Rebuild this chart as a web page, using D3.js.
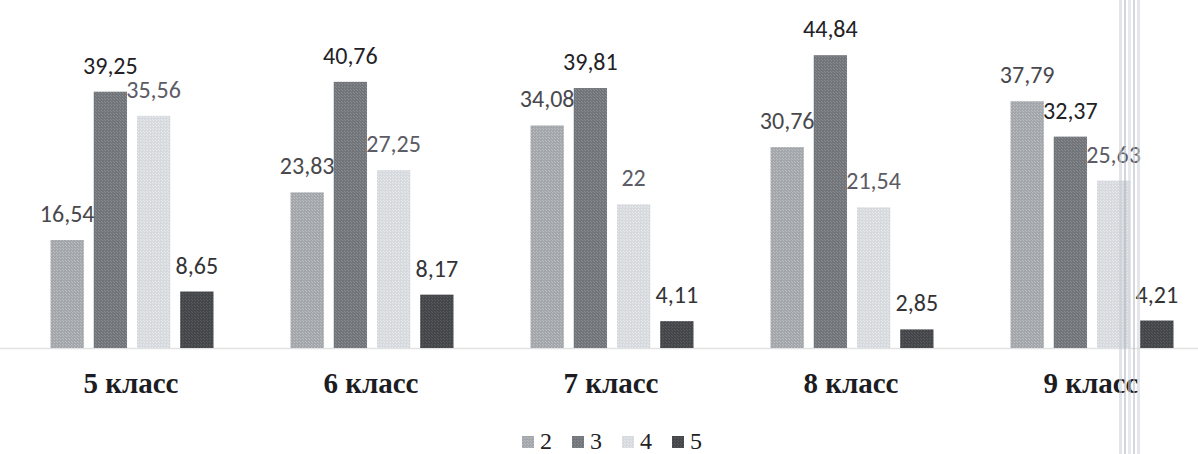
<!DOCTYPE html>
<html>
<head>
<meta charset="utf-8">
<script src="https://cdn.jsdelivr.net/npm/d3@7"></script>
<style>
  html, body { margin: 0; padding: 0; background: #fff; }
  svg { display: block; }
</style>
</head>
<body>
<svg id="chart"></svg>
<script>
const width = 1198, height = 454;

const classes = ["5 класс", "6 класс", "7 класс", "8 класс", "9 класс"];
const series = ["2", "3", "4", "5"];
const grade2 = [16.54, 23.83, 34.08, 30.76, 37.79];
const grade3 = [39.25, 40.76, 39.81, 44.84, 32.37];
const grade4 = [35.56, 27.25, 22, 21.54, 25.63];
const grade5 = [8.65, 8.17, 4.11, 2.85, 4.21];

const seriesValues = [grade2, grade3, grade4, grade5];

// flatten to one record per bar
const rows = [];
classes.forEach((c, i) => {
    series.forEach((s, j) => {
        rows.push({ cls: c, grade: s, value: seriesValues[j][i] });
    });
});

const svg = d3.select("#chart")
    .attr("width", width)
    .attr("height", height);

// scanned-look fills: base colour with a fine dither
const fills = {
    "2": ["#a3a7ab", "#bbbfc2"],
    "3": ["#72767a", "#898d91"],
    "4": ["#d6d9dd", "#e8eaec"],
    "5": ["#45464a", "#5a5b5f"]
};
const labelColor = { "2": "#48484c", "3": "#222226", "4": "#5c5c66", "5": "#333337" };

const defs = svg.append("defs");
series.forEach(s => {
    const p = defs.append("pattern")
        .attr("id", "fill" + s)
        .attr("patternUnits", "userSpaceOnUse")
        .attr("width", 3).attr("height", 3);
    p.append("rect").attr("width", 3).attr("height", 3).attr("fill", fills[s][0]);
    p.append("rect").attr("width", 1).attr("height", 1).attr("fill", fills[s][1]);
    p.append("rect").attr("x", 2).attr("y", 2).attr("width", 1).attr("height", 1).attr("fill", fills[s][1]);
});

const x0 = d3.scaleBand()
    .domain(classes)
    .range([11, 1211]);

const x1 = d3.scaleBand()
    .domain(series)
    .range([39.5, 202.5])
    .paddingInner(0.23)
    .paddingOuter(0);

const y = d3.scaleLinear()
    .domain([0, 50])
    .range([348, 21.5]);

// baseline
svg.append("line")
    .attr("x1", 0).attr("x2", width)
    .attr("y1", y(0) + 0.5).attr("y2", y(0) + 0.5)
    .attr("stroke", "#e2e2e2")
    .attr("stroke-width", 1.5);

// bars
svg.selectAll(".bar")
    .data(rows)
    .enter().append("rect")
    .attr("class", "bar")
    .attr("x", d => x0(d.cls) + x1(d.grade))
    .attr("y", d => y(d.value))
    .attr("width", x1.bandwidth())
    .attr("height", d => y(0) - y(d.value))
    .attr("fill", d => `url(#fill${d.grade})`);

// value labels
svg.selectAll(".val")
    .data(rows)
    .enter().append("text")
    .attr("class", "val")
    .attr("x", d => x0(d.cls) + x1(d.grade) + x1.bandwidth() / 2)
    .attr("y", d => y(d.value) - 18)
    .attr("text-anchor", "middle")
    .style("font-family", "Carlito, Calibri, 'Open Sans', sans-serif")
    .style("font-size", "24px")
    .style("fill", d => labelColor[d.grade])
    .text(d => String(d.value).replace(".", ","));

// category labels
svg.selectAll(".cat")
    .data(classes)
    .enter().append("text")
    .attr("class", "cat")
    .attr("x", d => x0(d) + x0.bandwidth() / 2)
    .attr("y", 393)
    .attr("text-anchor", "middle")
    .style("font-family", "'Liberation Serif', 'Times New Roman', serif")
    .style("font-weight", "bold")
    .style("font-size", "29px")
    .style("fill", "#1c1c22")
    .text(d => d);

// legend
const lx = d3.scaleBand().domain(series).range([522, 722]);
const legend = svg.selectAll(".legend")
    .data(series)
    .enter().append("g")
    .attr("class", "legend")
    .attr("transform", d => `translate(${lx(d)},0)`);

legend.append("rect")
    .attr("y", 436)
    .attr("width", 12)
    .attr("height", 12)
    .attr("fill", d => `url(#fill${d})`);

legend.append("text")
    .attr("x", 18)
    .attr("y", 449)
    .style("font-family", "'Liberation Serif', 'Times New Roman', serif")
    .style("font-size", "24px")
    .style("fill", "#222")
    .text(d => d);

// fold in the scanned page, right side
const fold = svg.append("g").attr("opacity", 0.55);
[[1119, 3, "#c9ced6"], [1124, 2, "#aeb4be"], [1128, 3, "#d4d8de"], [1133, 2, "#b4bac4"], [1137, 3, "#cfd3da"]]
    .forEach(([fx, fw, fc]) => {
        fold.append("rect")
            .attr("x", fx).attr("y", 0)
            .attr("width", fw).attr("height", height)
            .attr("fill", fc);
    });
</script>
</body>
</html>
